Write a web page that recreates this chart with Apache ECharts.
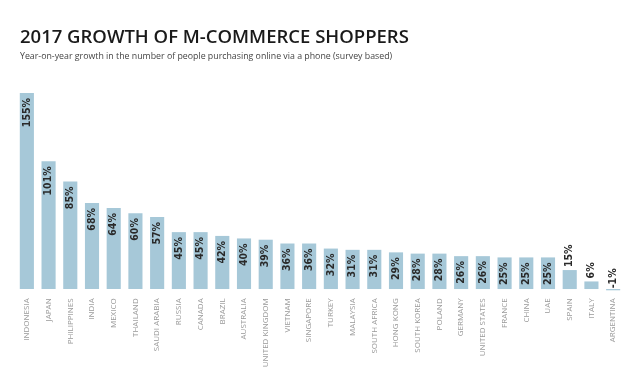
<!DOCTYPE html>
<html><head><meta charset="utf-8">
<script src="https://cdn.jsdelivr.net/npm/echarts@6/dist/echarts.min.js"></script>
<style>html,body{margin:0;padding:0;background:#fff}#c{width:640px;height:386px}</style>
</head><body><div id="c"></div>
<script>
const categories = ["INDONESIA","JAPAN","PHILIPPINES","INDIA","MEXICO","THAILAND","SAUDI ARABIA","RUSSIA","CANADA","BRAZIL","AUSTRALIA","UNITED KINGDOM","VIETNAM","SINGAPORE","TURKEY","MALAYSIA","SOUTH AFRICA","HONG KONG","SOUTH KOREA","POLAND","GERMANY","UNITED STATES","FRANCE","CHINA","UAE","SPAIN","ITALY","ARGENTINA"];
const growth = [155,101,85,68,64,60,57,45,45,42,40,39,36,36,32,31,31,29,28,28,26,26,25,25,25,15,6,-1];
const outsideLabelThreshold = 20;

const chart = echarts.init(document.getElementById('c'), null, {renderer:'canvas'});
const data = growth.map(v => {
  const outside = v < outsideLabelThreshold;
  return {
    value: v,
    label: outside ? {position: v < 0 ? 'insideBottom' : 'top', align:'left', distance: v < 0 ? 2 : 3} : {}
  };
});
chart.setOption({
  animation:false,
  title:[{
    text:'2017 GROWTH OF M-COMMERCE SHOPPERS',
    left:15, top:23,
    textStyle:{fontFamily:'Open Sans', fontSize:18.5, fontWeight:600, color:'#1a1a1a'}
  },{
    text:'Year-on-year growth in the number of people purchasing online via a phone (survey based)',
    left:15, top:47,
    textStyle:{fontFamily:'Open Sans', fontSize:8.8, fontWeight:'normal', color:'#444'}
  }],
  grid:{left:16, right:16, top:93, bottom:95.7, containLabel:false},
  xAxis:{
    type:'category', data:categories,
    axisLine:{show:false}, axisTick:{show:false},
    axisLabel:{rotate:90, interval:0, margin:8, fontFamily:'Open Sans', fontSize:8, color:'#999'}
  },
  yAxis:{type:'value', min:-1, max:155, show:false, splitLine:{show:false}},
  series:[{
    type:'bar', data:data, barCategoryGap:'35%',
    itemStyle:{color:'#a6c8d8'},
    label:{
      show:true, position:'insideTop', rotate:90, align:'right', verticalAlign:'middle', distance:5,
      formatter: p => p.value + '%',
      fontFamily:'DejaVu Sans Condensed, DejaVu Sans', fontSize:10.5, fontWeight:'bold', color:'#2a2a2a'
    }
  }]
});
</script></body></html>
